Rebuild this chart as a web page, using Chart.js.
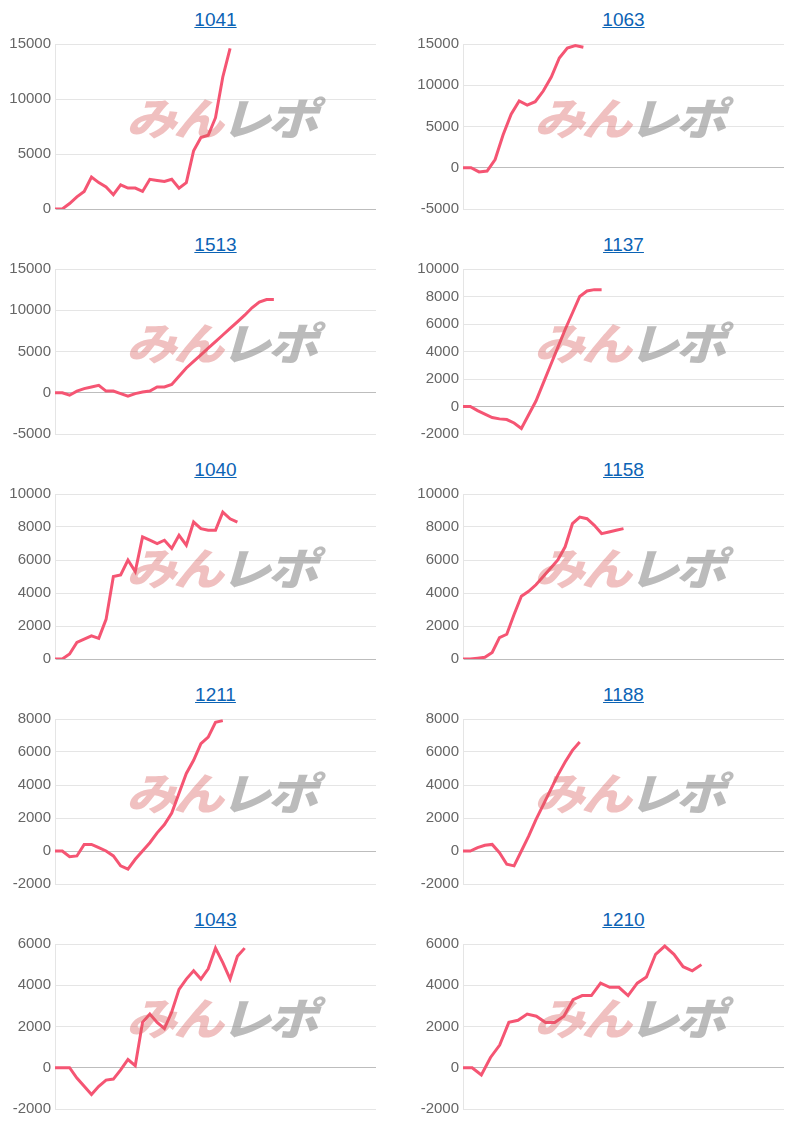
<!DOCTYPE html>
<html><head><meta charset="utf-8">
<script src="https://cdn.jsdelivr.net/npm/chart.js@4"></script>
<style>
body{margin:0;background:#fff;font-family:Arial,"Liberation Sans",sans-serif;}
#grid{position:relative;width:809px;height:1125px;}
.cell{position:absolute;width:400px;height:225px;}
.title{position:absolute;top:9px;left:55px;width:321px;text-align:center;font-size:19px;font-family:Arial,"Liberation Sans",sans-serif;}
.title a{color:#0b63b5;text-decoration:underline;}
.cv{position:absolute;top:31px;left:0;width:380px;height:194px;}
.wm{position:absolute;top:84px;left:126px;font-size:44px;font-weight:900;font-style:italic;letter-spacing:-3px;pointer-events:none;font-family:"Noto Sans CJK JP",sans-serif;transform:scaleX(1.15);transform-origin:left top;}
.wm .a{color:rgba(215,90,90,0.38);}
.wm .b{color:rgba(120,120,120,0.5);}
</style></head><body>
<div id="grid"></div>
<script>
const titles=["1041","1063","1513","1137","1040","1158","1211","1188","1043","1210"];
const slotCounts=[45,41,45,45,45,45,45,45,45,36];
const s1041=[0,0,500,1100,1600,2900,2400,2000,1300,2200,1900,1900,1600,2700,2600,2500,2700,1900,2400,5300,6500,6700,8300,12000,14600];
const s1063=[0,0,-500,-400,1000,4000,6500,8100,7600,8000,9300,11000,13300,14500,14800,14600];
const s1513=[0,0,-300,200,500,700,900,200,200,-100,-400,-100,100,200,700,700,1000,2000,3000,3800,4600,5400,6200,7000,7800,8600,9400,10300,11000,11300,11300];
const s1137=[0,0,-300,-550,-800,-900,-950,-1200,-1600,-600,400,1700,3000,4300,5600,6800,8000,8400,8500,8500];
const s1040=[0,0,300,1000,1200,1400,1250,2400,5000,5100,6000,5300,7400,7200,7000,7200,6700,7500,6900,8300,7900,7800,7800,8900,8500,8300];
const s1158=[0,0,50,100,400,1300,1500,2700,3800,4100,4500,5000,5500,6000,6800,8200,8600,8500,8100,7600,7700,7800,7900];
const s1211=[0,0,-350,-300,400,400,200,0,-300,-900,-1100,-500,0,500,1100,1600,2300,3500,4700,5500,6500,6900,7800,7900];
const s1188=[0,0,200,350,400,-100,-800,-900,0,900,1900,2800,3700,4600,5400,6100,6600];
const s1043=[0,0,0,-500,-900,-1300,-900,-600,-550,-100,400,100,2200,2600,2200,1900,2700,3800,4300,4700,4300,4800,5800,5100,4300,5400,5800];
const s1210=[0,0,-350,500,1100,2200,2300,2600,2500,2200,2200,2500,3300,3500,3500,4100,3900,3900,3500,4100,4400,5500,5900,5500,4900,4700,5000];
const series=[s1041,s1063,s1513,s1137,s1040,s1158,s1211,s1188,s1043,s1210];
const yMins=[0,-5000,-5000,-2000,0,0,-2000,-2000,-2000,-2000];
const yMaxs=[15000,15000,15000,10000,10000,10000,8000,8000,6000,6000];
const ySteps=[5000,5000,5000,2000,2000,2000,2000,2000,2000,2000];

const grid=document.getElementById('grid');
series.forEach((data,i)=>{
  const cell=document.createElement('div');cell.className='cell';
  cell.style.left=(i%2?408:0)+'px';cell.style.top=(Math.floor(i/2)*225)+'px';
  cell.innerHTML='<div class="title"><a href="#">'+titles[i]+'</a></div><div class="cv"><canvas></canvas></div><div class="wm"><span class="a">みん</span><span class="b">レポ</span></div>';
  grid.appendChild(cell);
  const labels=Array.from({length:slotCounts[i]},(_,k)=>String(k+1));
  new Chart(cell.querySelector('canvas'),{type:'line',
    data:{labels,datasets:[{data,borderColor:'rgb(245,85,115)',borderWidth:3,pointRadius:0,tension:0,fill:false}]},
    options:{responsive:true,maintainAspectRatio:false,animation:false,
      layout:{padding:{top:4,bottom:16,right:4}},
      plugins:{legend:{display:false},tooltip:{enabled:false}},
      scales:{
        x:{display:false},
        y:{min:yMins[i],max:yMaxs[i],ticks:{stepSize:ySteps[i],color:'#666',font:{size:15,family:'Arial'},padding:4,callback:v=>String(v)},
           afterFit:s=>{s.width=55;},
           border:{display:true,color:'#e5e5e5'},
           grid:{color:c=>c.tick&&c.tick.value===0?'#bdbdbd':'#e5e5e5',drawTicks:false}}
      }}});
});
</script></body></html>
